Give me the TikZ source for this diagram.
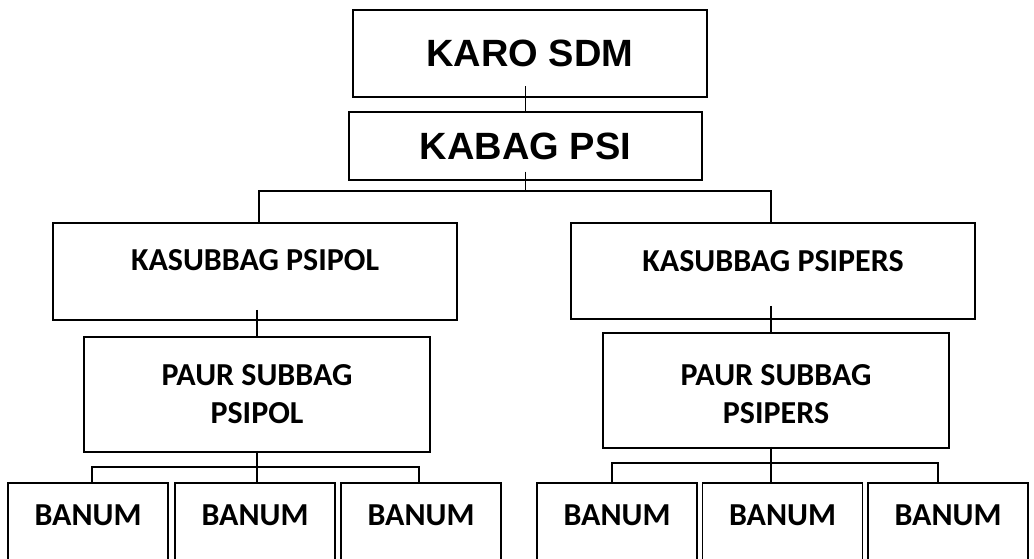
\documentclass[tikz,border=0pt]{standalone}
\usepackage{fontspec}
\newfontfamily\headfont{Liberation Sans}
\newfontfamily\unitfont{Carlito}
\newcommand\headtext{\headfont\bfseries\fontsize{38}{40}\selectfont}
\newcommand\unittext{\unitfont\bfseries\fontsize{32}{38}\selectfont}
\tikzset{
  box/.style={draw, rectangle, line width=1.5pt, inner sep=0pt},
  headbox/.style={box, font=\headtext},
  paurbox/.style={box, minimum width=346pt, minimum height=115pt},
  banum/.style={box, anchor=north, minimum width=160pt, minimum height=120pt,
    label={[font=\unittext, yshift=28pt]center:BANUM}},
  link/.style={line width=1.4pt},
}
\begin{document}
\begin{tikzpicture}[x=1pt, y=-1pt]
        \clip (0,0) rectangle (1034,559);

        \node[headbox, minimum width=354pt, minimum height=87pt] (karo) at (530,53.5) {KARO SDM};
        \node[headbox, minimum width=353pt, minimum height=68pt] (kabag) at (525.5,146) {KABAG PSI};

        \node[box, minimum width=404pt, minimum height=97pt,
              label={[font=\unittext, yshift=11pt]center:KASUBBAG PSIPOL}] (psipol) at (255,271.5) {};
        \node[box, minimum width=404pt, minimum height=96pt,
              label={[font=\unittext, yshift=10pt]center:KASUBBAG PSIPERS}] (psipers) at (773,271) {};

        \node[paurbox, label={[font=\unittext, align=center]center:PAUR SUBBAG\\PSIPOL}] (paurpol) at (257,394.5) {};
        \node[paurbox, label={[font=\unittext, align=center, yshift=-4pt]center:PAUR SUBBAG\\PSIPERS}] (paurpers) at (776,390.5) {};

        \node[banum] (b1) at (88,482) {};
        \node[banum] (b2) at (255,482) {};
        \node[banum] (b3) at (421,482) {};
        \node[banum] (b4) at (617,482) {};
        \node[banum] (b5) at (782.5,482) {};
        \node[banum] (b6) at (948,482) {};

        % top of the chart
        \draw[link] (kabag.north) -- ([yshift=12pt]kabag.north |- karo.south);
        \coordinate (busL) at (259,191);
        \coordinate (busR) at (771,191);
        \draw[link] ([yshift=9pt]kabag.south) -- (kabag.south |- busL);
        \draw[link] (busL |- psipol.north) -- (busL) -- (busR) -- (busR |- psipers.north);

        \draw[link] ([yshift=11pt]paurpol.north |- psipol.south) -- (paurpol.north);
        \draw[link] ([yshift=14pt]busR |- psipers.south) -- (busR |- paurpers.north);

        % banum rows
        \coordinate (lbusL) at (92,467);
        \coordinate (lbusR) at (419,467);
        \draw[link] (lbusL |- b1.north) -- (lbusL) -- (lbusR) -- (lbusR |- b3.north);
        \draw[link] ([yshift=2pt]paurpol.south) -- (paurpol.south |- b2.north);

        \coordinate (rbusL) at (612,463);
        \coordinate (rbusR) at (938,463);
        \draw[link] (rbusL |- b4.north) -- (rbusL) -- (rbusR) -- (rbusR |- b6.north);
        \draw[link] ([yshift=2pt]busR |- paurpers.south) -- (busR |- b5.north);
\end{tikzpicture}
\end{document}
